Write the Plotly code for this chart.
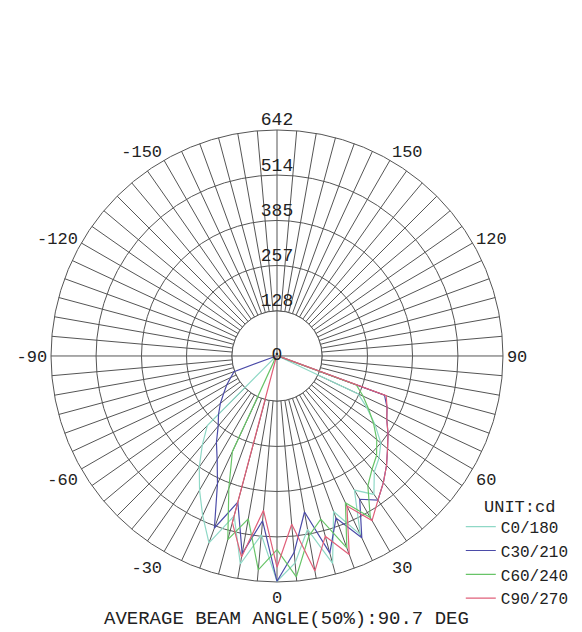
import plotly.graph_objects as go

# ---- data ----
theta_deg = [-90, -85, -80, -75, -70, -65, -60, -55, -50, -45, -40, -35, -30, -25, -20, -15, -10, -5, 0,
             5, 10, 15, 20, 25, 30, 35, 40, 45, 50, 55, 60, 65, 70, 75, 80, 85, 90]

c0_180 = [3, 4, 5, 6, 8, 10, 12, 14, 18, 280, 330, 385, 440, 500, 565, 470, 600, 510, 640,
          590, 500, 610, 470, 560, 440, 480, 430, 410, 385, 340, 295, 255, 12, 8, 6, 5, 4]
c30_210 = [3, 4, 5, 8, 130, 145, 165, 185, 210, 235, 260, 300, 340, 400, 520, 430, 570, 470, 640,
           560, 450, 580, 490, 570, 470, 500, 470, 440, 410, 385, 360, 345, 325, 10, 6, 5, 4]
c60_240 = [3, 4, 5, 5, 6, 6, 7, 8, 9, 10, 12, 14, 16, 300, 400, 540, 470, 610, 550,
           630, 520, 480, 580, 460, 530, 450, 420, 400, 370, 335, 300, 270, 240, 10, 6, 5, 4]
c90_270 = [3, 4, 4, 5, 5, 6, 6, 7, 7, 8, 8, 9, 10, 10, 12, 490, 580, 440, 600,
           480, 620, 530, 600, 470, 540, 500, 470, 440, 410, 385, 360, 345, 330, 15, 10, 8, 5]

series_names = ["C0/180", "C30/210", "C60/240", "C90/270"]
series_values = [c0_180, c30_210, c60_240, c90_270]
series_colors = ["#8fd8c6", "#4b4ba8", "#68c468", "#e0607a"]

radial_ticks = [128, 257, 385, 514, 642]
radial_labels = ["0", "128", "257", "385", "514", "642"]
radial_label_pos = [0, 128, 257, 385, 514, 642]

angle_ticks = list(range(0, 360, 5))
angle_label_map = {0: "0", 30: "30", 60: "60", 90: "90", 120: "120", 150: "150", 180: "",
                   210: "-150", 240: "-120", 270: "-90", 300: "-60", 330: "-30"}
angle_text = [angle_label_map.get(a, "") for a in angle_ticks]

title_text = "AVERAGE BEAM ANGLE(50%):90.7 DEG"
unit_text = "UNIT:cd"

FONT = "Liberation Mono"
GRID = "#555555"

fig = go.Figure()

# inner white disc (spokes do not enter the innermost ring)
fig.add_trace(go.Barpolar(r=[radial_ticks[0]], theta=[0], width=[360], base=0,
                          marker=dict(color="white", line=dict(color=GRID, width=1)),
                          showlegend=False, hoverinfo="skip"))
# inner cross lines
fig.add_trace(go.Scatterpolar(r=[radial_ticks[0], 0, radial_ticks[0]], theta=[0, 0, 180], mode="lines",
                              line=dict(color=GRID, width=1), showlegend=False, hoverinfo="skip"))
fig.add_trace(go.Scatterpolar(r=[radial_ticks[0], 0, radial_ticks[0]], theta=[90, 90, 270], mode="lines",
                              line=dict(color=GRID, width=1), showlegend=False, hoverinfo="skip"))

for name, vals, col in zip(series_names, series_values, series_colors):
    fig.add_trace(go.Scatterpolar(r=vals, theta=theta_deg, mode="lines", name=name,
                                  line=dict(color=col, width=1.2)))

# radial labels along the top spoke
fig.add_trace(go.Scatterpolar(r=radial_label_pos, theta=[180] * len(radial_label_pos), mode="text",
                              text=radial_labels,
                              textposition=["middle center"] + ["top center"] * (len(radial_labels) - 1),
                              textfont=dict(family=FONT, size=18, color="#222"),
                              cliponaxis=False, showlegend=False, hoverinfo="skip"))

fig.update_layout(
    width=582, height=632,
    margin=dict(l=0, r=0, t=0, b=0),
    paper_bgcolor="white",
    showlegend=True,
    polar=dict(
        domain=dict(x=[0.0739, 0.8505], y=[0.0918, 0.807]),
        bgcolor="white",
        radialaxis=dict(range=[0, 642], tickvals=radial_ticks, showticklabels=False, ticks="",
                        showline=False, gridcolor=GRID, gridwidth=1, layer="below traces"),
        angularaxis=dict(rotation=270, direction="counterclockwise", tickmode="array",
                         tickvals=angle_ticks, ticktext=angle_text, ticks="",
                         showline=True, linecolor=GRID, linewidth=1,
                         gridcolor=GRID, gridwidth=1, layer="below traces",
                         tickfont=dict(family=FONT, size=17, color="#222")),
    ),
    legend=dict(x=0.778, y=0.206, xanchor="left", yanchor="top",
                font=dict(family=FONT, size=16, color="#222"),
                bgcolor="rgba(0,0,0,0)", itemwidth=30, tracegroupgap=0),
    annotations=[
        dict(text=title_text, x=0.478, y=0.034, xref="paper", yref="paper", showarrow=False,
             font=dict(family=FONT, size=19, color="#222"), xanchor="center", yanchor="middle"),
        dict(text=unit_text, x=0.815, y=0.209, xref="paper", yref="paper", showarrow=False,
             font=dict(family=FONT, size=17, color="#222"), xanchor="left", yanchor="middle"),
    ],
)

fig.write_html("out.html")
